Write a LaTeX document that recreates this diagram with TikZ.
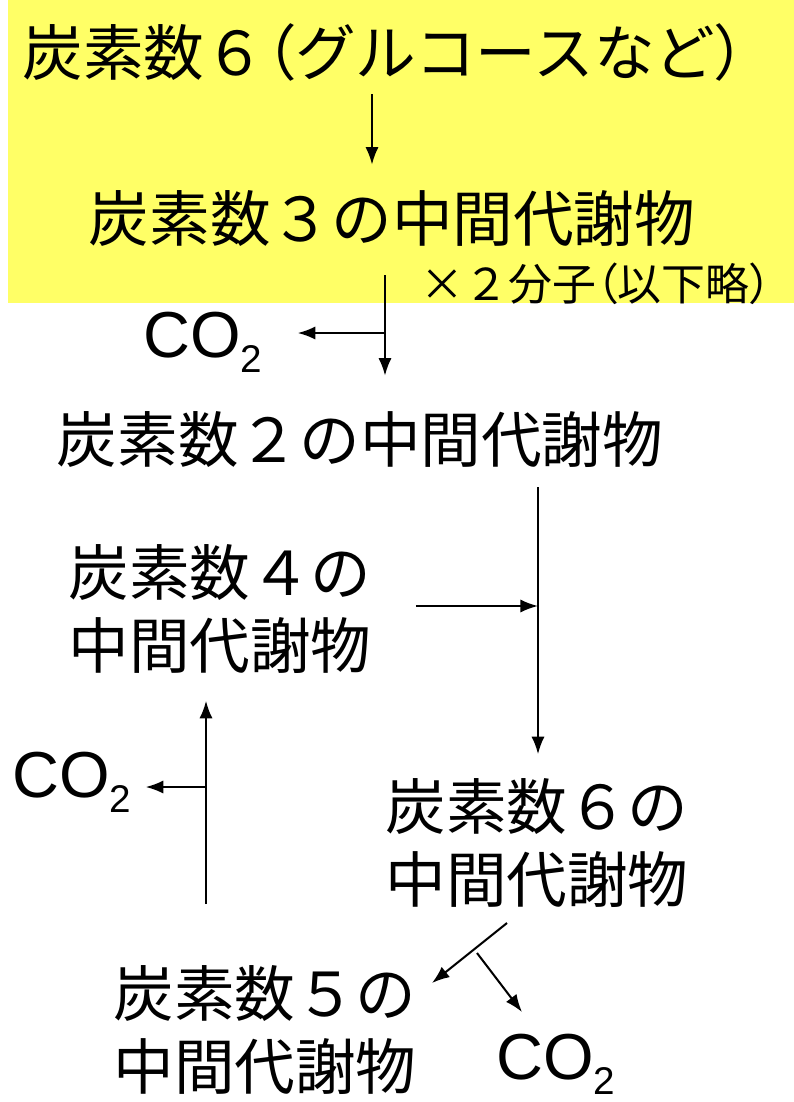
\documentclass[tikz,border=0pt]{standalone}
\usepackage{fontspec}
\setmainfont{Liberation Sans}
\newfontfamily\jp{Noto Sans CJK JP}
\newfontfamily\jpp[RawFeature=+palt]{Noto Sans CJK JP}
\usetikzlibrary{arrows.meta}
\definecolor{memo}{RGB}{255,255,102}

\tikzset{
  jtext/.style={inner sep=0pt, align=left, font=\jp\fontsize{34.5}{41.5}\selectfont},
  gas/.style={inner sep=0pt, anchor=base west, font=\fontsize{37}{40}\selectfont},
  arr/.style={-{Latex[length=10pt,width=7.5pt]}, line width=1.15pt},
}
\newcommand{\cotwo}{CO\raisebox{-9pt}{\fontsize{22}{22}\selectfont 2}}

\begin{document}
\begin{tikzpicture}[x=0.02cm, y=-0.02cm]
\useasboundingbox (0,0) rectangle (794,1102);
\fill[memo] (8,0) rectangle (794,303);

% metabolites
\node[jtext] (c6) at (384,52) {炭素数６{\jpp（}グルコースなど{\jpp）}};
\node[jtext] (c3) at (392,219) {炭素数３の中間代謝物};
\node[jtext, font=\jp\fontsize{25}{30}\selectfont] (two) at (596,284) {×２分子{\jpp（}以下略{\jpp）}};
\node[jtext] (c2) at (360,440) {炭素数２の中間代謝物};
\node[jtext] (c4) at (220,609) {炭素数４の\\中間代謝物};
\node[jtext] (c6b) at (537,843) {炭素数６の\\中間代謝物};
\node[jtext] (c5) at (265,1030) {炭素数５の\\中間代謝物};

% carbon dioxide
\node[gas] (g1) at (143,357) {\cotwo};
\node[gas] (g2) at (12,797) {\cotwo};
\node[gas] (g3) at (496,1079) {\cotwo};

\coordinate (k1) at (372,0);
\coordinate (j1) at (385,333);
\coordinate (j2) at (538,606);
\coordinate (j3) at (206,787);
\coordinate (j4) at (477,953);
\coordinate (d0) at (507,923);
\coordinate (d1) at (432,983);
\coordinate (d2) at (522,1012);

\draw[arr, shorten <=0.26cm, shorten >=0.52cm] (c6.south -| k1) -- (c3.north -| k1);
\draw[arr, shorten <=0.56cm, shorten >=0.72cm] (c3.south -| j1) -- (c2.north -| j1);
\draw[arr, shorten >=0.7cm] (j1) -- (g1.east |- j1);
\draw[arr, shorten <=0.38cm, shorten >=0.48cm] (c2.south -| j2) -- (c6b.north -| j2);
\draw[arr, shorten <=0.88cm] (c4.east |- j2) -- (j2);
\draw[arr, shorten <=1.22cm, shorten >=0.54cm] (c5.north -| j3) -- (c4.south -| j3);
\draw[arr, shorten >=0.28cm] (j3) -- (g2.east |- j3);
\draw[arr] (d0) -- (d1);
\draw[arr] (j4) -- (d2);
\end{tikzpicture}
\end{document}
